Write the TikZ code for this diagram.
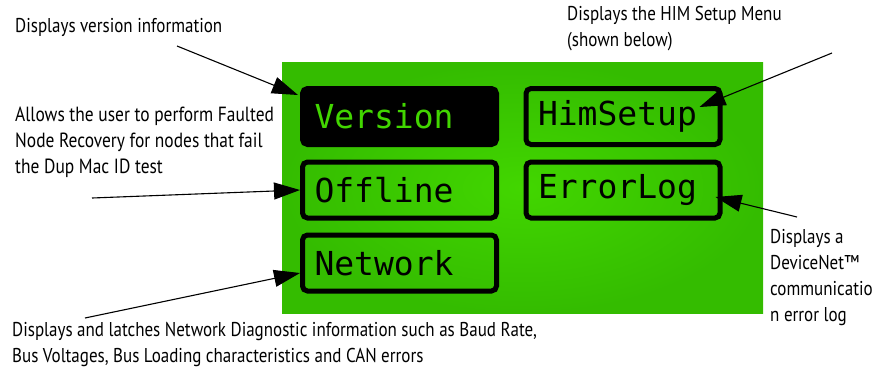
\documentclass[tikz,border=0pt]{standalone}
\usepackage{fontspec}
\setmainfont[FakeStretch=0.85]{PT Sans}
\newfontfamily\lcdfont{DejaVu Sans Mono}
\usetikzlibrary{arrows.meta,calc}
\definecolor{lcdgreen}{RGB}{66,214,0}
\definecolor{lcdedge}{RGB}{52,188,0}
\tikzset{call out/.style={font=\fontsize{20}{26}\selectfont,align=left,inner sep=0pt,anchor=base west},
  menu button/.style={draw=black,line width=5pt,rounded corners=5pt,text width=170pt,minimum height=56pt,inner xsep=12pt,inner ysep=0pt,align=left,font=\lcdfont\fontsize{33}{33}\selectfont},
  pointer/.style={line width=1.1pt,-{Triangle[length=26pt,width=17pt]}}}

\begin{document}
\begin{tikzpicture}[x=1pt,y=-1pt]
  \useasboundingbox (0,0) rectangle (888,368);
  % lcd screen
  \shade[inner color=lcdgreen,outer color=lcdedge] (282,62) rectangle (763,313);
  \node[menu button,fill=black,text=lcdgreen] (version) at (399.5,116.5) {Version};
  \node[menu button] (himsetup) at (623,116.5) {HimSetup};
  \node[menu button] (offline) at (399.5,190) {Offline};
  \node[menu button] (errorlog) at (623,190) {ErrorLog};
  \node[menu button] (network) at (399.5,263) {Network};
  % call outs (base = last line)
  \node[call out] (ver label) at (15,32) {Displays version information};
  \node[call out,font=\fontsize{20.5}{26}\selectfont] (off label) at (15,173) {Allows the user to perform Faulted\\Node Recovery for nodes that fail\\the Dup Mac ID test};
  \node[call out] (him label) at (567,46) {Displays the HIM Setup Menu\\(shown below)};
  \node[call out] (err label) at (770,321) {Displays a\\DeviceNet™\\communicatio\\n error log};
  \node[call out] (net label) at (12,362) {Displays and latches Network Diagnostic information such as Baud Rate,\\Bus Voltages, Bus Loading characteristics and CAN errors};
  \coordinate (ver tail) at (177,46);
  \coordinate (off tail) at (92,198);
  \coordinate (net tail) at (85,318);
  \coordinate (him tail) at (832,53);
  \coordinate (err tail) at (797,217);
  \draw[pointer] (ver tail) -- ($(version.north west)+(-2,9)$);
  \draw[pointer] (off tail) -- (offline.west);
  \draw[pointer] (net tail) -- ($(network.west)+(0,10)$);
  \draw[pointer] (him tail) -- ($(himsetup.east)+(-23,-9.5)$);
  \draw[pointer] (err tail) -- ($(errorlog.east)+(-7,7)$);
\end{tikzpicture}
\end{document}
